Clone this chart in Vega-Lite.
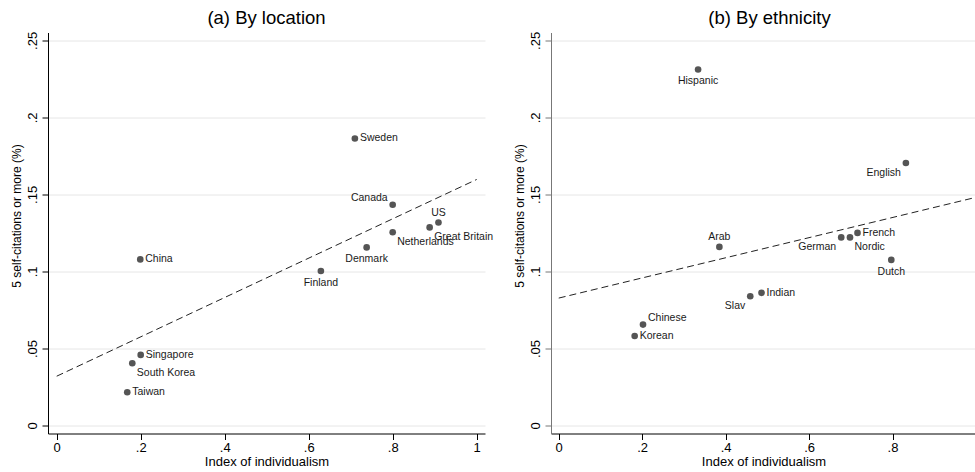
{
  "$schema": "https://vega.github.io/schema/vega-lite/v6.json",
  "padding": {"left": 10, "top": 8.5, "right": 0, "bottom": 0},
  "bounds": "flush",
  "spacing": 66,
  "background": "white",
  "config": {
    "font": "Liberation Sans",
    "view": {"stroke": null},
    "title": {"fontSize": 18.5, "fontWeight": "normal", "color": "#000", "anchor": "middle", "frame": "group", "baseline": "alphabetic", "offset": 3.5},
    "axisX": {"grid": false, "domainColor": "#000", "tickColor": "#000", "tickSize": 6, "labelFontSize": 13, "labelColor": "#000", "labelPadding": 2, "labelFlush": false, "labelOverlap": false, "titleFontSize": 13, "titleFontWeight": "normal", "titleColor": "#000", "titlePadding": 1, "labelExpr": "datum.value > 0 && datum.value < 1 ? substring(format(datum.value, '.2~f'), 1) : format(datum.value, '~f')"},
    "axisY": {"grid": true, "gridColor": "#e6e6e6", "domainColor": "#000", "tickColor": "#000", "tickSize": 6, "labelFontSize": 13, "labelColor": "#000", "labelAngle": -90, "labelAlign": "center", "labelBaseline": "bottom", "labelPadding": 3, "labelFlush": false, "labelOverlap": false, "titleFontSize": 12, "titleFontWeight": "normal", "titleColor": "#000", "titlePadding": 3, "titleY": 183, "labelExpr": "datum.value > 0 && datum.value < 1 ? substring(format(datum.value, '.2~f'), 1) : format(datum.value, '~f')"}
  },
  "datasets": {
    "location": [
      {"name": "Sweden", "idx": 0.71, "pct": 0.1863, "clock": "3"},
      {"name": "Canada", "idx": 0.80, "pct": 0.1433, "clock": "10"},
      {"name": "US", "idx": 0.909, "pct": 0.1318, "clock": "12"},
      {"name": "Great Britain", "idx": 0.888, "pct": 0.1286, "clock": "4"},
      {"name": "Netherlands", "idx": 0.80, "pct": 0.1254, "clock": "4"},
      {"name": "Denmark", "idx": 0.738, "pct": 0.1156, "clock": "6"},
      {"name": "Finland", "idx": 0.629, "pct": 0.1003, "clock": "6"},
      {"name": "China", "idx": 0.199, "pct": 0.1078, "clock": "3"},
      {"name": "Singapore", "idx": 0.20, "pct": 0.0458, "clock": "3"},
      {"name": "South Korea", "idx": 0.18, "pct": 0.0404, "clock": "4"},
      {"name": "Taiwan", "idx": 0.168, "pct": 0.0216, "clock": "3"}
    ],
    "ethnicity": [
      {"name": "Hispanic", "idx": 0.334, "pct": 0.2311, "clock": "6"},
      {"name": "English", "idx": 0.832, "pct": 0.1704, "clock": "7"},
      {"name": "French", "idx": 0.716, "pct": 0.125, "clock": "3"},
      {"name": "Nordic", "idx": 0.698, "pct": 0.1221, "clock": "4"},
      {"name": "German", "idx": 0.677, "pct": 0.1221, "clock": "7"},
      {"name": "Dutch", "idx": 0.797, "pct": 0.1075, "clock": "6"},
      {"name": "Arab", "idx": 0.385, "pct": 0.1159, "clock": "12"},
      {"name": "Indian", "idx": 0.486, "pct": 0.0861, "clock": "3"},
      {"name": "Slav", "idx": 0.459, "pct": 0.0839, "clock": "7"},
      {"name": "Chinese", "idx": 0.202, "pct": 0.0655, "clock": "1"},
      {"name": "Korean", "idx": 0.182, "pct": 0.0581, "clock": "3"}
    ],
    "fitA": [
      {"idx": 0, "pct": 0.032},
      {"idx": 1, "pct": 0.1597}
    ],
    "fitB": [
      {"idx": 0, "pct": 0.0827},
      {"idx": 1, "pct": 0.1481}
    ]
  },
  "hconcat": [
    {
      "title": {"text": "(a) By location"},
      "width": 437,
      "height": 401,
      "data": {"name": "location"},
      "encoding": {
        "x": {"field": "idx", "type": "quantitative", "scale": {"domain": [-0.0207, 1.0198], "nice": false, "zero": false}, "axis": {"title": "Index of individualism", "values": [0, 0.2, 0.4, 0.6, 0.8, 1]}},
        "y": {"field": "pct", "type": "quantitative", "scale": {"domain": [-0.0052, 0.2551], "nice": false, "zero": false}, "axis": {"title": "5 self-citations or more (%)", "values": [0, 0.05, 0.1, 0.15, 0.2, 0.25]}}
      },
      "layer": [
        {"data": {"name": "fitA"}, "mark": {"type": "line", "color": "#222", "strokeWidth": 1, "strokeDash": [7, 4], "clip": true}},
        {"mark": {"type": "circle", "color": "#555555", "opacity": 1, "size": 44}},
        {"transform": [{"filter": "datum.clock == '3'"}], "mark": {"type": "text", "align": "left", "baseline": "middle", "dx": 5, "dy": 0, "fontSize": 10.5, "color": "#1a1a1a"}, "encoding": {"text": {"field": "name"}}},
        {"transform": [{"filter": "datum.clock == '12'"}], "mark": {"type": "text", "align": "center", "baseline": "middle", "dx": 0, "dy": -9.5, "fontSize": 10.5, "color": "#1a1a1a"}, "encoding": {"text": {"field": "name"}}},
        {"transform": [{"filter": "datum.clock == '6'"}], "mark": {"type": "text", "align": "center", "baseline": "middle", "dx": 0, "dy": 12, "fontSize": 10.5, "color": "#1a1a1a"}, "encoding": {"text": {"field": "name"}}},
        {"transform": [{"filter": "datum.clock == '4'"}], "mark": {"type": "text", "align": "left", "baseline": "middle", "dx": 4.5, "dy": 10, "fontSize": 10.5, "color": "#1a1a1a"}, "encoding": {"text": {"field": "name"}}},
        {"transform": [{"filter": "datum.clock == '10'"}], "mark": {"type": "text", "align": "right", "baseline": "middle", "dx": -5, "dy": -7, "fontSize": 10.5, "color": "#1a1a1a"}, "encoding": {"text": {"field": "name"}}}
      ]
    },
    {
      "title": {"text": "(b) By ethnicity", "dx": 6},
      "width": 425,
      "height": 401,
      "data": {"name": "ethnicity"},
      "encoding": {
        "x": {"field": "idx", "type": "quantitative", "scale": {"domain": [-0.0185, 1.0], "nice": false, "zero": false}, "axis": {"title": "Index of individualism", "values": [0, 0.2, 0.4, 0.6, 0.8]}},
        "y": {"field": "pct", "type": "quantitative", "scale": {"domain": [-0.0052, 0.2551], "nice": false, "zero": false}, "axis": {"title": "5 self-citations or more (%)", "values": [0, 0.05, 0.1, 0.15, 0.2, 0.25], "domainColor": "#777", "tickColor": "#777"}}
      },
      "layer": [
        {"data": {"name": "fitB"}, "mark": {"type": "line", "color": "#222", "strokeWidth": 1, "strokeDash": [7, 4], "clip": true}},
        {"mark": {"type": "circle", "color": "#555555", "opacity": 1, "size": 44}},
        {"transform": [{"filter": "datum.clock == '3'"}], "mark": {"type": "text", "align": "left", "baseline": "middle", "dx": 5, "dy": 0, "fontSize": 10.5, "color": "#1a1a1a"}, "encoding": {"text": {"field": "name"}}},
        {"transform": [{"filter": "datum.clock == '12'"}], "mark": {"type": "text", "align": "center", "baseline": "middle", "dx": 0, "dy": -9.5, "fontSize": 10.5, "color": "#1a1a1a"}, "encoding": {"text": {"field": "name"}}},
        {"transform": [{"filter": "datum.clock == '6'"}], "mark": {"type": "text", "align": "center", "baseline": "middle", "dx": 0, "dy": 12, "fontSize": 10.5, "color": "#1a1a1a"}, "encoding": {"text": {"field": "name"}}},
        {"transform": [{"filter": "datum.clock == '4'"}], "mark": {"type": "text", "align": "left", "baseline": "middle", "dx": 4.5, "dy": 10, "fontSize": 10.5, "color": "#1a1a1a"}, "encoding": {"text": {"field": "name"}}},
        {"transform": [{"filter": "datum.clock == '7'"}], "mark": {"type": "text", "align": "right", "baseline": "middle", "dx": -5, "dy": 10, "fontSize": 10.5, "color": "#1a1a1a"}, "encoding": {"text": {"field": "name"}}},
        {"transform": [{"filter": "datum.clock == '1'"}], "mark": {"type": "text", "align": "left", "baseline": "middle", "dx": 5, "dy": -7, "fontSize": 10.5, "color": "#1a1a1a"}, "encoding": {"text": {"field": "name"}}}
      ]
    }
  ]
}
